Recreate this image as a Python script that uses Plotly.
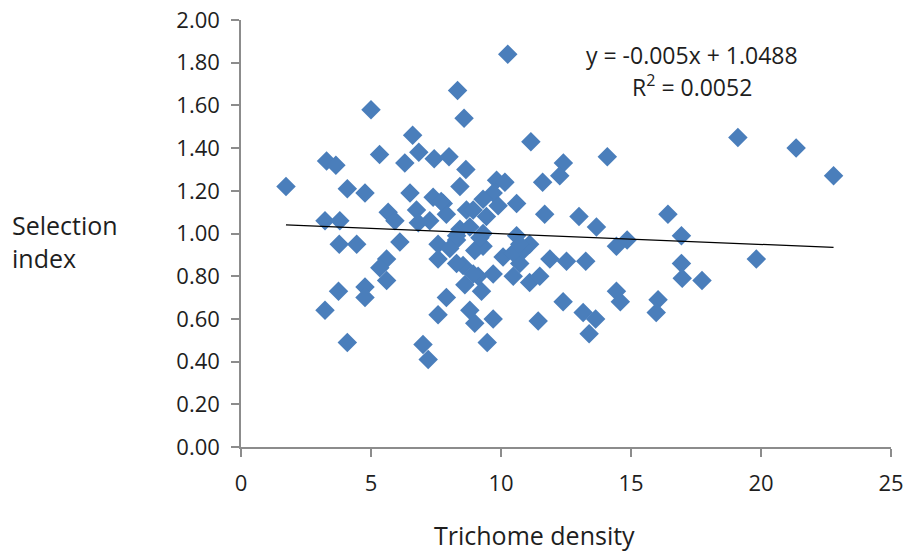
import plotly.graph_objects as go

# Data (Trichome density vs Selection index)
trichome_density = [
    1.73, 3.29, 3.65, 4.09, 4.77, 5.00, 5.33, 6.60, 6.30, 6.84, 7.43, 8.00, 8.33, 8.58,
    10.26, 11.15, 8.65, 8.42, 6.50, 5.66, 5.92, 6.75, 7.26, 7.39, 7.78, 8.67, 9.83, 9.70,
    10.60, 11.60, 11.68, 12.40, 12.26, 3.23, 3.80, 3.78, 4.45, 3.75, 3.23, 4.09, 4.77, 4.77,
    5.60, 5.34, 5.60, 6.11, 6.82, 7.90, 7.58, 7.00, 7.20, 7.58, 7.58, 8.42, 8.29, 8.54,
    8.61, 8.80, 8.99, 9.25, 9.70, 9.47, 9.31, 9.12, 9.70, 10.08, 10.47, 10.72, 11.10, 11.49,
    11.43, 11.88, 12.39, 12.52, 10.60, 10.85, 11.10, 9.31, 8.80, 7.90, 19.11, 21.35, 22.79,
    14.09, 13.00, 13.67, 16.42, 16.94, 14.44, 14.85, 19.82, 13.26, 16.94, 16.97, 17.73,
    14.44, 14.59, 16.04, 15.97, 13.16, 13.64, 13.39, 10.15, 7.70, 8.93, 9.31, 9.44, 9.89,
    8.03, 8.99, 10.47, 9.19, 10.72, 8.29, 8.93, 8.29,
]
selection_index = [
    1.22, 1.34, 1.32, 1.21, 1.19, 1.58, 1.37, 1.46, 1.33, 1.38, 1.35, 1.36, 1.67, 1.54,
    1.84, 1.43, 1.30, 1.22, 1.19, 1.10, 1.06, 1.11, 1.06, 1.17, 1.14, 1.11, 1.25, 1.19,
    1.14, 1.24, 1.09, 1.33, 1.27, 1.06, 1.06, 0.95, 0.95, 0.73, 0.64, 0.49, 0.75, 0.70,
    0.88, 0.84, 0.78, 0.96, 1.05, 0.70, 0.62, 0.48, 0.41, 0.95, 0.88, 1.02, 0.97, 0.85,
    0.76, 0.64, 0.58, 0.73, 0.60, 0.49, 0.94, 0.80, 0.81, 0.89, 0.80, 0.86, 0.77, 0.80,
    0.59, 0.88, 0.68, 0.87, 0.99, 0.92, 0.95, 1.00, 1.03, 1.09, 1.45, 1.40, 1.27,
    1.36, 1.08, 1.03, 1.09, 0.99, 0.94, 0.97, 0.88, 0.87, 0.86, 0.79, 0.78,
    0.73, 0.68, 0.69, 0.63, 0.63, 0.60, 0.53, 1.24, 1.15, 1.11, 1.16, 1.08, 1.13,
    0.93, 0.92, 0.91, 0.98, 0.95, 0.86, 0.81, 0.99,
]
slope = -0.005
intercept = 1.0488
r_squared = 0.0052
x_ticks = [0, 5, 10, 15, 20, 25]
y_ticks = [0.0, 0.2, 0.4, 0.6, 0.8, 1.0, 1.2, 1.4, 1.6, 1.8, 2.0]

x_min, x_max = min(trichome_density), max(trichome_density)
trend_x = [x_min, x_max]
trend_y = [slope * v + intercept for v in trend_x]

FONT = "Open Sans"
TXT = "#1e1e1e"
AX = "#8c8c8c"

W, H = 906, 552
L, R, T, B = 241, 15, 20, 105
PH = H - T - B
PW = W - L - R


def px_x(page_x):
    return (page_x - L) / PW


def px_y(page_y):
    return (H - B - page_y) / PH


fig = go.Figure()
fig.add_trace(go.Scatter(
    x=trichome_density, y=selection_index, mode="markers",
    marker=dict(symbol="diamond", size=15, color="#4A7EBB", line=dict(width=0)),
    showlegend=False,
))
fig.add_trace(go.Scatter(
    x=trend_x, y=trend_y, mode="lines",
    line=dict(color="#000000", width=1.2), showlegend=False,
))

fig.update_layout(
    width=W, height=H,
    margin=dict(l=L, r=R, t=T, b=B, autoexpand=False),
    paper_bgcolor="white", plot_bgcolor="white",
    font=dict(family=FONT, color=TXT, size=22),
    xaxis=dict(
        range=[0, 25], tickvals=x_ticks, ticktext=[str(v) for v in x_ticks],
        showgrid=False, zeroline=False, showline=True, linecolor=AX, linewidth=1.5,
        ticks="outside", ticklen=8, tickcolor=AX, tickwidth=1.5,
        ticklabelstandoff=8, ticklabeloverflow="allow", automargin=False,
        tickfont=dict(size=22, family=FONT, color=TXT),
    ),
    yaxis=dict(
        range=[0, 2], tickvals=y_ticks, ticktext=[f"{v:.2f}" for v in y_ticks],
        showgrid=False, zeroline=False, showline=True, linecolor=AX, linewidth=1.5,
        ticks="outside", ticklen=8, tickcolor=AX, tickwidth=1.5,
        ticklabelstandoff=7, ticklabeloverflow="allow", automargin=False,
        tickfont=dict(size=22, family=FONT, color=TXT),
    ),
    annotations=[
        dict(text="Selection<br>index", xref="paper", yref="paper",
             x=px_x(10), y=px_y(241), xanchor="left", yanchor="middle", align="left",
             showarrow=False, font=dict(size=25, family=FONT, color=TXT)),
        dict(text="Trichome density", xref="paper", yref="paper",
             x=px_x(534), y=px_y(535), xanchor="center", yanchor="middle",
             showarrow=False, font=dict(size=25, family=FONT, color=TXT)),
        dict(text="y = -0.005x + 1.0488", xref="paper", yref="paper",
             x=px_x(692), y=px_y(55), xanchor="center", yanchor="middle",
             showarrow=False, font=dict(size=23, family=FONT, color=TXT)),
        dict(text="R<sup>2</sup> = 0.0052", xref="paper", yref="paper",
             x=px_x(692), y=px_y(86), xanchor="center", yanchor="middle",
             showarrow=False, font=dict(size=23, family=FONT, color=TXT)),
    ],
)

fig.write_html(
    "out.html",
    config={"displayModeBar": False},
    post_script="document.body.style.margin='0';document.body.style.overflow='hidden';",
)
